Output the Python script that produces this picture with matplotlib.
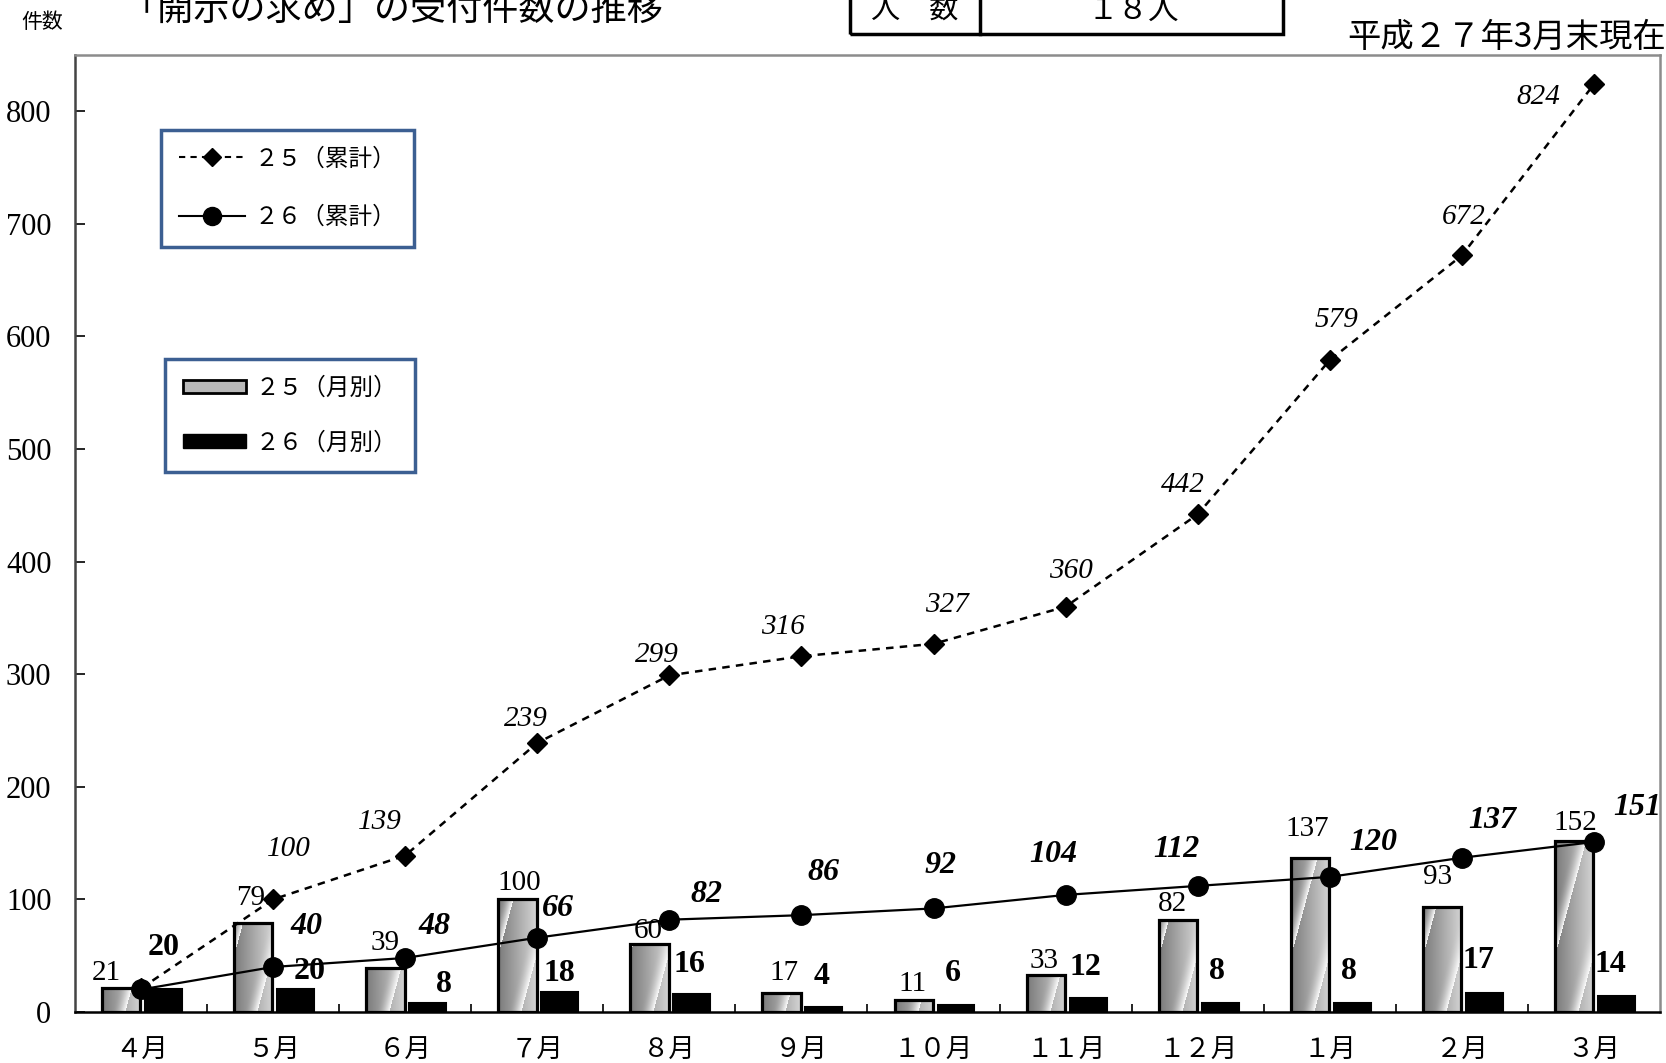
import numpy as np
import matplotlib
matplotlib.use("Agg")
import matplotlib.pyplot as plt
from matplotlib.lines import Line2D
from matplotlib.patches import Patch, Rectangle

plt.rcParams['font.family'] = ['Liberation Serif', 'Noto Sans CJK JP']
JP = ['Noto Sans CJK JP', 'DejaVu Sans']

# データ
months = ['４月', '５月', '６月', '７月', '８月', '９月', '１０月', '１１月', '１２月', '１月', '２月', '３月']
h25_month = [21, 79, 39, 100, 60, 17, 11, 33, 82, 137, 93, 152]
h26_month = [20, 20, 8, 18, 16, 4, 6, 12, 8, 8, 17, 14]
h25_cum = [21, 100, 139, 239, 299, 316, 327, 360, 442, 579, 672, 824]
h26_cum = [20, 40, 48, 66, 82, 86, 92, 104, 112, 120, 137, 151]
yticks = [0, 100, 200, 300, 400, 500, 600, 700, 800]

# ラベルの位置ずれ(pt)
off25m = [(-11, 11), (-2, 18), (0, 18), (1, 12), (-1, 10), (2, 14), (-1, 11), (-1, 10), (-4, 11), (-2, 21), (-3, 22), (1, 13)]
off26m = [(0, 30), (10, 13), (12, 13), (0, 13), (-2, 21), (-2, 22), (-2, 23), (-2, 22), (-2, 23), (-2, 23), (-4, 23), (-4, 23)]
off25c = [None, (11, 36), (-18, 24), (-8, 17), (-9, 15), (-13, 21), (10, 28), (4, 26), (-11, 21), (5, 29), (1, 28), (-40, -9)]
off26c = [None, (24, 29), (21, 23), (15, 21), (27, 18), (16, 31), (5, 31), (-9, 29), (-15, 26), (31, 25), (22, 27), (31, 25)]

W, H = 1666, 1063
fig = plt.figure(figsize=(W / 100, H / 100), dpi=100)
ax = fig.add_axes([75 / W, 1 - 1012 / H, (1660 - 75) / W, (1012 - 55) / H])

x = np.arange(len(months))
ymax = 850
ax.set_xlim(-0.5, len(months) - 0.5)
ax.set_ylim(0, ymax)

# 棒グラフ
bars25 = ax.bar(x - 0.15, h25_month, width=0.29, facecolor='none', edgecolor='black', linewidth=2.3, zorder=3)
bars26 = ax.bar(x + 0.17, h26_month, width=0.28, facecolor='black', edgecolor='black', linewidth=1.5, zorder=3)

# グラデーション(斜めの光)
px_x = (1660 - 75) / len(months)
px_y = (1012 - 55) / ymax
for b in bars25:
    bx, bw, bh = b.get_x(), b.get_width(), b.get_height()
    wp = bw * px_x
    hp = max(bh * px_y, 2)
    nx, ny = int(wp) + 1, int(hp) + 1
    xx, yy = np.meshgrid(np.arange(nx), np.arange(ny))
    u = xx / wp
    base = 0.48 + 0.35 * u
    d = ((xx - 0.27 * yy) / wp + 0.4) % 1.0
    v = base + (0.98 - base) * np.clip((d - 0.65) / 0.35, 0, 1) ** 2
    im = ax.imshow(v, cmap='gray', vmin=0, vmax=1, origin='lower', aspect='auto',
                   extent=(bx, bx + bw, 0, bh), zorder=2.5, interpolation='bilinear')
    im.set_clip_path(b)
ax.set_xlim(-0.5, len(months) - 0.5)
ax.set_ylim(0, ymax)
ax.set_aspect('auto')

# 折れ線
ax.plot(x, h25_cum, color='black', ls=(0, (3, 2.5)), lw=1.8, marker='D', ms=10, zorder=5)
ax.plot(x, h26_cum, color='black', ls='-', lw=1.6, marker='o', ms=14, zorder=5)

# 数値ラベル
for i in range(len(months)):
    b = bars25[i]
    ax.annotate(str(h25_month[i]), (b.get_x() + b.get_width() / 2, h25_month[i]),
                xytext=off25m[i], textcoords='offset points', ha='center', va='center',
                fontsize=21, zorder=6)
    b = bars26[i]
    ax.annotate(str(h26_month[i]), (b.get_x() + b.get_width() / 2, h26_month[i]),
                xytext=off26m[i], textcoords='offset points', ha='center', va='center',
                fontsize=23, fontweight='bold', zorder=6)
    if off25c[i] is not None:
        ax.annotate(str(h25_cum[i]), (x[i], h25_cum[i]), xytext=off25c[i],
                    textcoords='offset points', ha='center', va='center',
                    fontsize=21, fontstyle='italic', zorder=6)
    if off26c[i] is not None:
        ax.annotate(str(h26_cum[i]), (x[i], h26_cum[i]), xytext=off26c[i],
                    textcoords='offset points', ha='center', va='center',
                    fontsize=23, fontstyle='italic', fontweight='bold', zorder=6)

# 軸
ax.set_xticks(x)
ax.set_xticklabels(months, family=JP, fontsize=19)
ax.set_xticks(x[:-1] + 0.5, minor=True)
ax.tick_params(axis='x', which='major', length=0, pad=18)
ax.tick_params(axis='x', which='minor', direction='in', length=6, width=1.2)
ax.set_yticks(yticks)
ax.tick_params(axis='y', direction='in', length=7, width=1.2, pad=17, labelsize=22)
for sp in ['top', 'right']:
    ax.spines[sp].set_color('#8c8c8c')
    ax.spines[sp].set_linewidth(1.8)
ax.spines['left'].set_color('#444444')
ax.spines['left'].set_linewidth(1.8)
ax.spines['bottom'].set_color('black')
ax.spines['bottom'].set_linewidth(1.8)

# 凡例
h1 = [Line2D([], [], color='black', ls=(0, (3, 2.5)), lw=1.5, marker='D', ms=9),
      Line2D([], [], color='black', ls='-', lw=1.5, marker='o', ms=13)]
leg1 = ax.legend(h1, ['２５（累計）', '２６（累計）'], loc='upper left',
                 bbox_to_anchor=(161 / W, 1 - 130 / H), bbox_transform=fig.transFigure,
                 borderaxespad=0, fancybox=False, framealpha=1, edgecolor='#3c5f92',
                 prop={'family': JP, 'size': 17}, handlelength=2.8, handletextpad=0.4,
                 labelspacing=1.5, borderpad=0.75)
leg1.get_frame().set_linewidth(2.5)
ax.add_artist(leg1)

h2 = [Patch(facecolor='#b8b8b8', edgecolor='black', linewidth=2),
      Patch(facecolor='black', edgecolor='black')]
leg2 = ax.legend(h2, ['２５（月別）', '２６（月別）'], loc='upper left',
                 bbox_to_anchor=(165 / W, 1 - 359 / H), bbox_transform=fig.transFigure,
                 borderaxespad=0, fancybox=False, framealpha=1, edgecolor='#3c5f92',
                 prop={'family': JP, 'size': 17}, handlelength=2.7, handleheight=0.5,
                 handletextpad=0.4, labelspacing=1.35, borderpad=0.75)
leg2.get_frame().set_linewidth(2.5)

# 上部の文字
fig.text(42 / W, 1 - 22 / H, '件数', family=JP, fontsize=15, ha='center', va='center')
fig.text(122 / W, 1 - 10 / H, '「開示の求め」の受付件数の推移', family=JP, fontsize=26,
         ha='left', va='center')
fig.add_artist(Rectangle((850 / W, 1 - 34 / H), (1283 - 850) / W, 60 / H, transform=fig.transFigure,
                         facecolor='none', edgecolor='black', linewidth=2.5, clip_on=False))
fig.add_artist(Line2D([980 / W, 980 / W], [1 - 34 / H, 1.0], transform=fig.transFigure,
                      color='black', linewidth=2.5))
fig.text(915 / W, 1 - 10 / H, '人　数', family=JP, fontsize=21, ha='center', va='center')
fig.text(1133 / W, 1 - 10 / H, '１８人', family=JP, fontsize=22, ha='center', va='center')
fig.text(1.0, 1 - 37 / H, '平成２７年3月末現在', family=JP, fontsize=24, ha='right', va='center')

fig.savefig('out.png', dpi=100)
